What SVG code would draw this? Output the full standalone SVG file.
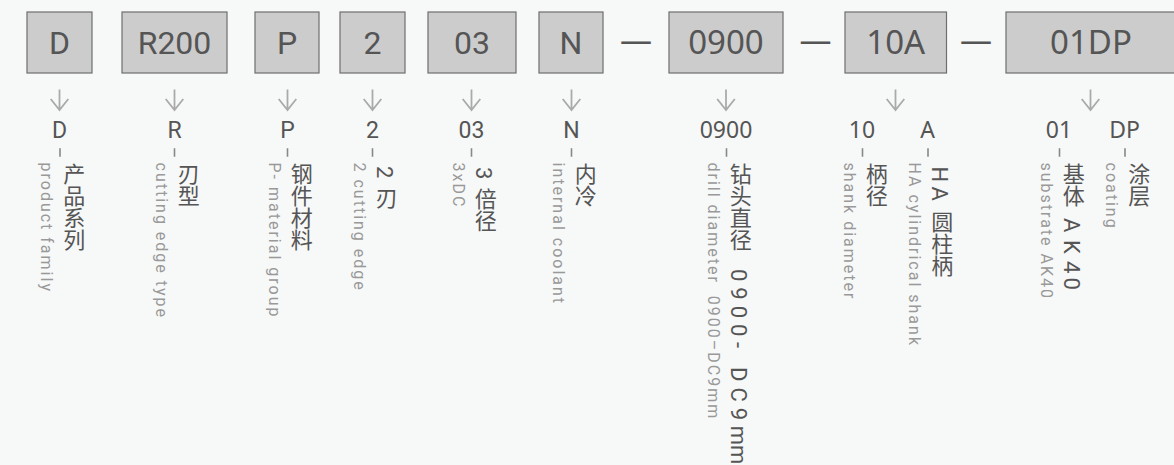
<svg xmlns="http://www.w3.org/2000/svg" width="1174" height="465" viewBox="0 0 1174 465">
<style>
.bg{fill:#f7f8f8}
.box{fill:#cccccc;stroke:#6e6e6e;stroke-width:1.2}
.code{font-family:Roboto,"Liberation Sans",sans-serif;font-size:32px;fill:#555;text-anchor:middle}
.code2{font-family:"Noto Sans","Open Sans",sans-serif;font-size:33px;fill:#555;text-anchor:middle}
.sub{font-family:Roboto,"Liberation Sans",sans-serif;font-size:23px;fill:#555;text-anchor:middle}
.sub2{font-family:"Noto Sans","Open Sans",sans-serif;font-size:23px;fill:#555;text-anchor:middle}
.zh{font-family:Roboto,"Noto Sans CJK SC",sans-serif;font-size:22px;fill:#555;writing-mode:vertical-rl}
.en{font-family:Roboto,"Liberation Sans",sans-serif;font-size:16px;letter-spacing:2px;fill:#999;writing-mode:vertical-rl}
.dash{font-family:"Noto Sans","Open Sans",sans-serif;font-size:32px;fill:#555;text-anchor:middle}
.arrow{fill:none;stroke:#aaa;stroke-width:1.8}
.tick{stroke:#888;stroke-width:1.6}
</style>
<rect class="bg" x="0" y="0" width="1174" height="465"/>

<g id="code-D"><rect class="box" x="27" y="12" width="65" height="61"/><text class="code" x="59.5" y="53.5">D</text></g>
<g id="code-R200"><rect class="box" x="122" y="12" width="105" height="61"/><text class="code" x="174.5" y="53.5">R200</text></g>
<g id="code-P"><rect class="box" x="255" y="12" width="64" height="61"/><text class="code" x="287" y="53.5">P</text></g>
<g id="code-2"><rect class="box" x="340" y="12" width="65" height="61"/><text class="code" x="372.5" y="53.5">2</text></g>
<g id="code-03"><rect class="box" x="428" y="12" width="88" height="61"/><text class="code" x="472" y="53.5">03</text></g>
<g id="code-N"><rect class="box" x="539" y="12" width="64" height="61"/><text class="code" x="571" y="53.5">N</text></g>
<g id="sep-1"><text class="dash" x="636" y="51.5">—</text></g>
<g id="code-0900"><rect class="box" x="669" y="12" width="114" height="61"/><text class="code2" x="726" y="54">0900</text></g>
<g id="sep-2"><text class="dash" x="815.5" y="51.5">—</text></g>
<g id="code-10A"><rect class="box" x="845" y="12" width="101.5" height="61"/><text class="code2" x="895.75" y="54">10A</text></g>
<g id="sep-3"><text class="dash" x="976" y="51.5">—</text></g>
<g id="code-01DP"><rect class="box" x="1006" y="12" width="170" height="61"/><text class="code2" x="1091" y="54">01DP</text></g>

<g id="connectors">
<path class="arrow" d="M59.5,89.5V110M50.7,99L59.5,110L68.3,99"/>
<path class="arrow" d="M174.5,89.5V110M165.7,99L174.5,110L183.3,99"/>
<path class="arrow" d="M287.5,89.5V110M278.7,99L287.5,110L296.3,99"/>
<path class="arrow" d="M372.5,89.5V110M363.7,99L372.5,110L381.3,99"/>
<path class="arrow" d="M471.5,89.5V110M462.7,99L471.5,110L480.3,99"/>
<path class="arrow" d="M571.5,89.5V110M562.7,99L571.5,110L580.3,99"/>
<path class="arrow" d="M726,89.5V110M717.2,99L726,110L734.8,99"/>
<path class="arrow" d="M895.5,89.5V110M886.7,99L895.5,110L904.3,99"/>
<path class="arrow" d="M1090.5,89.5V110M1081.7,99L1090.5,110L1099.3,99"/>
<path class="tick" d="M60,148.3V156.7M174.5,148.3V156.7M287.5,148.3V156.7M372.5,148.3V156.7M471.5,148.3V156.7M571.5,148.3V156.7M726.5,148.3V156.7M862.5,148.3V156.7M928,148.3V156.7M1059.5,148.3V156.7M1125,148.3V156.7"/>
</g>

<g id="desc-D">
<text class="sub" x="59.5" y="138">D</text>
<text class="zh" x="71.8" y="163">产品系列</text>
<text class="en" x="46.5" y="162.5">product family</text>
</g>
<g id="desc-R">
<text class="sub" x="174.5" y="138">R</text>
<text class="zh" x="186.3" y="163">刃型</text>
<text class="en" x="161" y="162.5">cutting edge type</text>
</g>
<g id="desc-P">
<text class="sub" x="287.5" y="138">P</text>
<text class="zh" x="299.3" y="163">钢件材料</text>
<text class="en" x="274" y="162.5">P- material group</text>
</g>
<g id="desc-2">
<text class="sub" x="372.5" y="138">2</text>
<text class="zh" x="384.3" y="166"><tspan letter-spacing="8.5">2</tspan>刃</text>
<text class="en" x="359" y="162.5">2 cutting edge</text>
</g>
<g id="desc-03">
<text class="sub" x="471.5" y="138">03</text>
<text class="zh" x="483.3" y="167"><tspan letter-spacing="8.1">3</tspan>倍径</text>
<text class="en" x="458" y="162.5">3xDC</text>
</g>
<g id="desc-N">
<text class="sub" x="571.5" y="138">N</text>
<text class="zh" x="583.3" y="163">内冷</text>
<text class="en" x="558" y="162.5">internal coolant</text>
</g>
<g id="desc-0900">
<text class="sub2" x="726" y="138">0900</text>
<text class="zh" x="738.3" y="163">钻头直径<tspan letter-spacing="12.5"> </tspan><tspan letter-spacing="6">0900</tspan><tspan letter-spacing="18">-</tspan><tspan letter-spacing="6">DC9</tspan>mm</text>
<text class="en" x="713" y="162.5">drill diameter&#160; 0900–DC9mm</text>
</g>
<g id="desc-10">
<text class="sub2" x="862" y="138">10</text>
<text class="zh" x="874.3" y="163">柄径</text>
<text class="en" x="849" y="162.5">shank diameter</text>
</g>
<g id="desc-A">
<text class="sub2" x="927.5" y="138">A</text>
<text class="zh" x="939.8" y="166.5"><tspan letter-spacing="4.7">H</tspan><tspan letter-spacing="9.6">A</tspan>圆柱柄</text>
<text class="en" x="914.5" y="162.5">HA cylindrical shank</text>
</g>
<g id="desc-01">
<text class="sub2" x="1059" y="138">01</text>
<text class="zh" x="1071.3" y="163">基<tspan letter-spacing="11">体</tspan><tspan letter-spacing="7.2">A</tspan><tspan letter-spacing="8">K</tspan><tspan letter-spacing="3.8">4</tspan>0</text>
<text class="en" x="1046" y="162.5">substrate AK40</text>
</g>
<g id="desc-DP">
<text class="sub2" x="1124.7" y="138">DP</text>
<text class="zh" x="1136.8" y="163">涂层</text>
<text class="en" x="1111.5" y="162.5">coating</text>
</g>
</svg>
